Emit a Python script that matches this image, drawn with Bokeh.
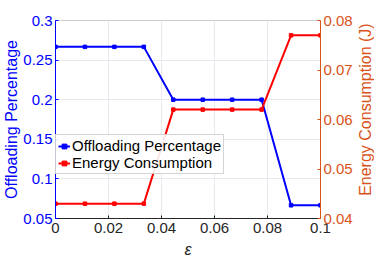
import math
from bokeh.plotting import figure
from bokeh.layouts import row
from bokeh.models import Range1d, LinearAxis, FixedTicker, Legend, LegendItem
from bokeh.core.properties import value
from bokeh.embed import file_html
from bokeh.resources import INLINE

eps = [0, 1/90, 2/90, 3/90, 4/90, 5/90, 6/90, 7/90, 8/90, 0.1]
offload = [0.2667, 0.2667, 0.2667, 0.2667, 0.2, 0.2, 0.2, 0.2, 0.0667, 0.0667]
energy = [0.043, 0.043, 0.043, 0.043, 0.062, 0.062, 0.062, 0.062, 0.077, 0.077]

x_ticks = [0, 0.02, 0.04, 0.06, 0.08, 0.1]
x_labels = ["0", "0.02", "0.04", "0.06", "0.08", "0.1"]
yl_ticks = [0.05, 0.1, 0.15, 0.2, 0.25, 0.3]
yl_labels = ["0.05", "0.1", "0.15", "0.2", "0.25", "0.3"]
yr_ticks = [0.04, 0.05, 0.06, 0.07, 0.08]
yr_labels = ["0.04", "0.05", "0.06", "0.07", "0.08"]
right_title = "Energy Consumption (J)"

BLUE = "#0000FF"
RED = "#FF0000"
ORANGE = "#D95319"
FONT = "Liberation Sans"

p = figure(width=356, height=262, output_backend="svg", toolbar_location=None,
           x_range=Range1d(0, 0.1), y_range=Range1d(0.05, 0.3),
           min_border_left=53, min_border_right=36, min_border_top=20, min_border_bottom=44)
p.extra_y_ranges = {"e": Range1d(0.04, 0.08)}

p.outline_line_color = "#cccccc"
p.background_fill_color = "white"
p.border_fill_color = "white"

p.xgrid.ticker = FixedTicker(ticks=x_ticks)
p.ygrid.ticker = FixedTicker(ticks=yl_ticks)
p.xgrid.grid_line_color = "#e8e8f0"
p.ygrid.grid_line_color = "#e8e8f0"


def style(ax, color, label_color):
    ax.axis_label_text_font = FONT
    ax.axis_label_text_font_style = "normal"
    ax.axis_label_text_font_size = "16px"
    ax.axis_label_text_color = label_color
    ax.axis_label_standoff = 0
    ax.major_label_text_font = FONT
    ax.major_label_text_font_size = "15px"
    ax.major_label_text_color = label_color
    ax.axis_line_color = color
    ax.major_tick_line_color = color
    ax.major_tick_in = 3
    ax.major_tick_out = 0
    ax.minor_tick_line_color = None
    ax.major_label_standoff = 3


xa = p.xaxis[0]
xa.ticker = FixedTicker(ticks=x_ticks)
xa.major_label_overrides = {t: l for t, l in zip(x_ticks, x_labels)}
xa.axis_label = "ε"
style(xa, "#262626", "#262626")
xa.axis_label_text_font_style = "italic"
xa.axis_label_standoff = 5
xa.major_label_standoff = 4

ya = p.yaxis[0]
ya.ticker = FixedTicker(ticks=yl_ticks)
ya.major_label_overrides = {t: l for t, l in zip(yl_ticks, yl_labels)}
ya.axis_label = "Offloading Percentage"
style(ya, BLUE, BLUE)

ra = LinearAxis(y_range_name="e", ticker=FixedTicker(ticks=yr_ticks))
ra.major_label_overrides = {t: l for t, l in zip(yr_ticks, yr_labels)}
style(ra, ORANGE, ORANGE)
p.add_layout(ra, "right")

l1 = p.line(eps, offload, line_color=BLUE, line_width=2)
m1 = p.scatter(eps, offload, marker="square", size=3.5, color=BLUE)
l2 = p.line(eps, energy, line_color=RED, line_width=2, y_range_name="e")
m2 = p.scatter(eps, energy, marker="square", size=3.5, color=RED, y_range_name="e")

legend = Legend(items=[LegendItem(label="Offloading Percentage", renderers=[l1, m1]),
                       LegendItem(label="Energy Consumption", renderers=[l2, m2])],
                location=(0, 44))
legend.label_text_font = FONT
legend.label_text_font_size = "15px"
legend.label_text_color = "#000000"
legend.label_height = 16
legend.glyph_width = 12
legend.glyph_height = 16
legend.label_standoff = 2
legend.spacing = 0
legend.padding = 2
legend.margin = 0
legend.border_line_color = "#aaaaaa"
legend.background_fill_color = "white"
legend.background_fill_alpha = 0.9
p.add_layout(legend, "center")

# strip holding the right axis title, reading bottom-to-top
p2 = figure(width=18, height=262, output_backend="svg", toolbar_location=None,
            x_range=Range1d(0, 1), y_range=Range1d(0, 1),
            min_border_left=0, min_border_right=0, min_border_top=0, min_border_bottom=0)
p2.axis.visible = False
p2.grid.visible = False
p2.outline_line_color = None
p2.text(x=[0.5], y=[0.55], text=[right_title], angle=math.pi / 2,
        text_align="center", text_baseline="middle",
        text_font=value(FONT), text_font_size="16px", text_color=ORANGE)

layout = row(p, p2, spacing=0)
open("out.html", "w").write(file_html(layout, INLINE))
